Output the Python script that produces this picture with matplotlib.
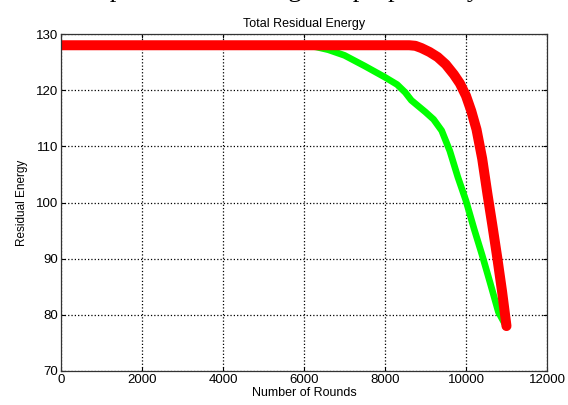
import matplotlib
matplotlib.use("Agg")
import matplotlib.pyplot as plt

# existing scheme (green) and proposed scheme (red)
rounds_green = [0, 6000, 6300, 6600, 7000, 7500, 8000, 8300, 8500, 8650, 8800, 9000,
                9200, 9400, 9600, 9800, 10000, 10200, 10400, 10600, 10800, 10950]
energy_green = [128, 128, 127.7, 127.2, 126.2, 124.3, 122.3, 121.0, 119.6, 118.2, 117.3, 116.1,
                114.8, 112.8, 109.2, 104.5, 100.3, 95.3, 90.6, 85.6, 80.5, 78.5]

rounds_red = [0, 8600, 8750, 8900, 9100, 9300, 9500, 9700, 9850, 10000, 10130, 10260,
              10400, 10530, 10650, 10770, 10890, 11000]
energy_red = [128, 128, 127.9, 127.5, 126.8, 125.9, 124.6, 122.8, 121.2, 119.0, 116.3, 113.0,
              107.8, 101.5, 96.0, 90.3, 84.2, 78]

xticks = [0, 2000, 4000, 6000, 8000, 10000, 12000]
yticks = [70, 80, 90, 100, 110, 120, 130]

plt.rcParams['font.family'] = ['Liberation Sans', 'DejaVu Sans']

fig = plt.figure(figsize=(5.68, 4.05), dpi=100)
ax = fig.add_axes([0.1074, 0.084, 0.8556, 0.832])

# clipped line of the surrounding document text (only the descenders show)
fig.text(0.5, 1 + 3 / 405, "the output of the existing and proposed system",
         family='Liberation Serif', fontsize=19, ha='center', va='baseline')

ax.plot(rounds_green, energy_green, color='#00ff00', linewidth=4.8,
        solid_capstyle='round', solid_joinstyle='round')
ax.plot(rounds_red, energy_red, color='#ff0000', linewidth=7.2,
        solid_capstyle='round', solid_joinstyle='round')

ax.set_xlim(0, 12000)
ax.set_ylim(70, 130)
ax.set_xticks(xticks)
ax.set_yticks(yticks)
ax.tick_params(direction='in', length=3, labelsize=9.5, top=True, right=True, pad=2)
ax.grid(True, color='black', linestyle=':', linewidth=0.9)
for s in ax.spines.values():
    s.set_linewidth(0.9)
    s.set_color('#333333')

ax.set_title('Total Residual Energy', fontsize=9, pad=5)
ax.set_xlabel('Number of Rounds', fontsize=9, labelpad=1)
ax.set_ylabel('Residual Energy', fontsize=8.5, labelpad=6)

fig.savefig('out.png', dpi=100)
